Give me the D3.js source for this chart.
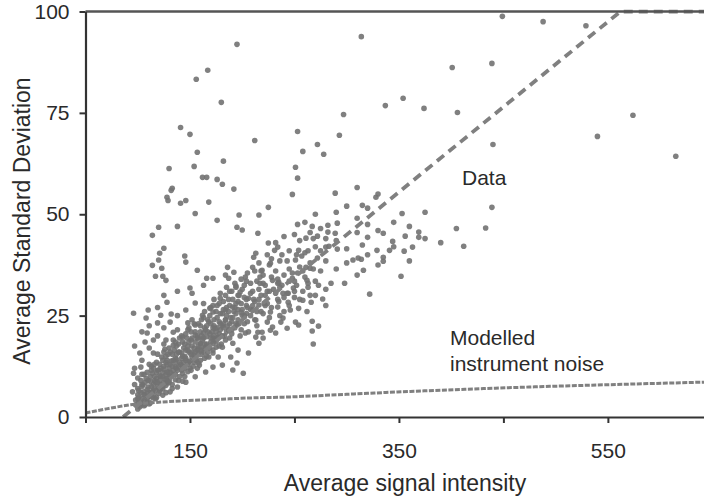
<!DOCTYPE html>
<html>
<head>
<meta charset="utf-8">
<script src="https://cdn.jsdelivr.net/npm/d3@7"></script>
<style>
  body { margin: 0; background: #fff; }
  svg { display: block; font-family: "Liberation Sans", Arial, sans-serif; }
</style>
</head>
<body>
<div id="chart"></div>
<script>
// values (intensity, standard deviation)
var outliers = [[195,91.9],[167,85.5],[156,83.3],[180,77.6],[141,71.4],[150,69.7],[212,68.2],[157,65.3],[154,61.8],[182,63.1],[130,61.3],[162,59.1],[166,59.1],[176,58.6],[181,57.4],[192,56.2],[133,56.4],[132,55.9],[128,54.2],[129,53.4],[141,52.7],[146,53.4],[168,53.0],[155,50.2],[176,48.5],[197,49.8],[216,49.8],[225,51.7],[195,46.8],[200,46.1],[215,45.3],[138,47.0],[120,46.8],[114,44.8],[125,41.6],[121,40.4],[120,38.7],[114,37.4],[123,36.7],[117,34.7],[124,34.7],[127,33.7],[145,39.7],[146,38.2],[157,36.2],[166,34.2],[172,34.2],[186,36.9],[184,35.0],[187,34.2],[192,35.7],[203,34.5],[211,39.4],[213,40.4],[210,36.9],[219,36.2],[227,37.9],[225,42.9],[234,41.9],[231,41.1],[217,34.5],[229,33.7],[235,33.2],[194,32.3],[150,31.8]];

var upperRight = [[314,93.8],[401,86.2],[439,87.2],[354,78.6],[337,76.8],[374,76.1],[406,75.1],[297,74.6],[253,70.4],[293,69.5],[272,67.2],[258,65.5],[278,64.8],[251,61.6],[253,58.9],[248,54.9],[289,55.2],[310,56.6],[328,54.2],[315,52.2],[353,50.2],[440,67.2],[439,51.7],[433,46.6],[412,42.1],[449,98.8],[488,97.5],[529,96.5],[574,74.4],[540,69.2],[615,64.3]];

var middle = [[253,47.5],[267,47.0],[282,47.3],[291,47.8],[261,44.1],[272,44.6],[282,45.6],[289,45.3],[320,44.3],[335,45.3],[344,43.3],[356,44.6],[369,45.6],[369,44.3],[363,41.9],[355,40.9],[341,41.1],[329,41.1],[315,42.4],[280,41.9],[291,41.4],[254,41.1],[257,39.7],[251,38.7],[272,39.2],[261,36.9],[253,35.5],[248,34.2],[262,33.7],[316,36.2],[306,38.7],[314,38.9],[335,39.4],[335,38.4],[352,34.7],[298,33.0],[273,32.5],[263,32.0],[283,42.1],
  [244,30.5],[258,28.8],[266,28.3],[277,29.1],[254,26.8],[251,23.4],[254,22.7],[267,23.6],[273,22.4],[267,21.2],[268,18.0],[322,30.3],[243,21.9],[244,28.3],[265,36.7],[311,39.2],[217,33.0],[234,33.0],[239,30.5],[249,31.8],[246,26.4],[237,23.4],[227,21.4],[220,19.5],[215,20.9]];

var cluster = [[96,25.6],[110,26.4],[108,24.4],[128,28.3],[122,25.1],[132,25.4],[131,23.4],[119,23.2],[109,20.7],[107,18.5],[102,15.8],[115,15.8],[126,16.7],[127,13.5],[134,20.9],[143,19.7],[148,23.2],[155,22.7],[162,25.1],[169,26.8],[179,29.3],[184,26.4],[191,27.1],[198,30.8],[206,29.3],[210,26.4],[216,27.6],[222,30.0],[227,25.9],[234,27.1],[239,24.4],[229,22.2],[219,20.9],[213,19.7],[203,20.7],[195,22.7],[187,21.4],[177,19.7],[172,18.2],[165,17.2],[158,15.8],[152,14.8],[144,13.5],[136,12.3],[129,11.1],[124,9.9],[117,8.6],[110,7.4],[106,6.2],[101,4.9],[95,6.2],
  [201,10.8],[191,11.6],[181,12.8],[172,12.3],[165,11.1],[155,9.9],[146,8.6],[138,7.4],[131,6.2],[124,5.4],[115,4.7],[109,3.7],[103,3.4],[98,4.2],[96,10.8],[103,12.3],[100,9.6],[105,7.9],[114,10.8],[120,11.6],[136,14.5],[148,16.5],[160,18.2],[172,19.5],[181,17.2],[191,18.2],[196,16.5],[189,14.8],[177,14.8],[168,14.8],[158,13.3],[150,12.1],[143,10.8],[131,9.9],[128,8.4],[120,7.1],[114,6.2],[107,5.4],
  [184,23.9],[200,25.1],[213,23.9],[224,23.4],[232,20.7],[216,18.2],[206,15.8],[195,13.3],[155,20.2],[163,20.7],[174,21.9],[134,17.7],[127,19.0],[115,19.0],[172,25.9],[155,28.1],[146,26.4],
  [98,3.0],[100,5.5],[102,2.5],[104,8.0],[106,4.0],[108,9.5],[110,5.0],[111,3.2],[112,8.8],[113,12.5],[115,6.8],[116,9.0],[117,4.5],[118,13.5],[119,7.5],[120,5.8],[121,10.2],[122,8.0],[123,14.8],[124,6.9],[125,11.8],[126,9.3],[127,7.8],[128,12.9],[129,15.5],[130,8.5],[131,11.0],[132,13.8],[133,7.0],[134,10.5],[135,16.5],[136,9.2],[137,14.2],[138,11.5],[139,18.0],[140,10.0],[141,13.0],[142,15.8],[143,8.8],[144,17.0],[145,12.0],[146,14.0],[147,19.5],[148,11.2],[149,16.0],[150,13.8],[151,21.0],[152,17.5],[153,12.5],[154,15.2],[155,18.5],[156,14.0],[157,20.0],[158,16.8],[159,12.8],[160,22.5],[161,15.5],[162,19.0],[163,17.0],[164,14.5],[165,21.5],[166,19.8],[167,16.0],[168,23.5],[170,18.5],[171,21.0],[172,15.8],[173,24.0],[174,19.0],[175,17.2],[176,22.0],[178,20.5],[179,25.5],[180,18.0],[182,23.0],[183,20.0],[185,27.0],[186,22.5],[188,19.5],[189,24.5],[190,21.5],[192,26.0],[194,23.0],[196,28.5],[198,20.0],[199,25.8],[202,23.0],[204,27.5],[206,21.0],[208,25.0],[211,29.0],[214,22.5],[218,26.0],[221,28.0],[226,24.5],[230,31.5],[235,28.5],[240,26.0],[245,33.5],[250,29.5],[258,31.0],[262,26.0],[270,30.0],[280,27.5],[285,33.0]];

// more of the dense band: intensity, then the deviations seen at that intensity
var bandRows = [
  [100, 2.0, 4.5, 7.0], [103, 3.0, 6.0, 9.0], [106, 2.8, 5.5, 10.5], [109, 4.5, 6.8, 11.0],
  [112, 3.5, 6.0, 10.0], [115, 5.5, 8.0, 12.0], [118, 4.8, 9.5, 11.0], [121, 6.5, 9.0, 13.0],
  [124, 7.5, 11.0, 14.0], [127, 6.0, 10.5, 15.0], [130, 9.0, 12.0, 17.0], [133, 8.0, 12.5, 15.5],
  [136, 10.5, 13.5, 18.5], [139, 9.0, 12.5, 16.0], [142, 11.5, 14.5, 20.0], [145, 10.0, 15.0, 18.0],
  [148, 13.0, 17.5, 21.5], [151, 11.5, 15.5, 19.0], [154, 13.5, 17.0, 23.0], [157, 12.0, 16.5, 19.5],
  [160, 14.0, 18.0, 21.0], [163, 16.0, 19.5, 24.5], [166, 15.0, 18.0, 22.5], [169, 17.0, 20.5, 25.0],
  [172, 16.5, 22.0, 27.5], [175, 18.5, 21.0, 26.0], [178, 17.5, 23.5, 28.0], [181, 20.0, 22.5, 25.5],
  [184, 19.0, 24.0, 30.0], [187, 21.5, 26.0, 29.0], [190, 20.5, 23.5, 31.0], [193, 22.0, 27.0, 33.0],
  [196, 24.0, 26.5, 30.0], [199, 21.5, 28.0, 34.0], [202, 25.0, 29.5, 32.5], [205, 23.5, 27.0, 35.5],
  [208, 26.5, 30.5, 33.0], [212, 24.0, 28.5, 36.0], [216, 29.0, 31.5, 38.0], [220, 25.5, 33.0, 35.0],
  [224, 28.0, 31.0, 40.0], [228, 27.0, 34.5, 39.0], [232, 30.5, 36.0, 43.0], [236, 25.0, 32.0, 38.5],
  [240, 29.5, 35.0, 44.5], [245, 27.5, 36.5, 41.0], [250, 31.0, 33.5, 45.0], [255, 29.0, 37.0, 43.5],
  [260, 34.5, 40.5, 48.0], [265, 30.0, 38.0, 45.5], [270, 33.5, 42.0, 50.0], [275, 36.0, 41.0, 46.5],
  [280, 31.5, 38.5, 44.0], [290, 36.5, 43.5, 50.5], [300, 38.0, 41.5, 52.0], [310, 35.0, 45.5, 49.0],
  [320, 40.0, 47.5, 51.5], [330, 37.5, 46.0, 55.0], [345, 42.0, 48.0], [360, 38.5, 47.0],
  [375, 44.0, 50.5], [390, 43.0], [405, 46.5],
  [97, 8.0, 12.0, 17.5], [104, 10.5, 14.0, 21.0], [111, 13.0, 17.0, 22.5], [119, 15.5, 20.0, 27.0],
  [125, 18.0, 22.0, 30.0], [138, 21.5, 25.0, 31.0], [152, 24.0, 30.5], [163, 28.0, 32.5],
  [101, 3.5, 6.5], [104, 4.5, 7.5], [107, 3.0, 8.5], [110, 6.0, 9.0], [113, 5.0, 7.5, 11.5],
  [116, 6.5, 10.0, 13.0], [119, 8.5, 11.5], [122, 7.0, 10.0, 12.0], [125, 8.5, 12.5, 16.0],
  [128, 9.5, 11.0, 14.0], [131, 10.0, 13.0, 16.0], [134, 11.5, 14.0, 19.0], [137, 12.0, 15.5, 17.5],
  [140, 13.5, 16.0, 19.5], [143, 12.5, 15.0, 18.5], [146, 14.5, 16.5, 20.5], [149, 13.5, 18.5, 22.0],
  [152, 16.0, 19.5], [155, 14.5, 16.0, 21.0], [158, 17.5, 19.5, 23.0], [161, 16.5, 20.0, 24.0],
  [164, 18.0, 22.0, 26.0], [167, 17.5, 21.0, 24.0], [170, 19.5, 23.0, 27.0], [173, 20.0, 22.5, 29.0],
  [176, 19.5, 24.5, 27.5], [179, 21.5, 23.0, 30.5], [182, 22.0, 26.5, 28.5], [185, 21.0, 25.0, 32.0],
  [188, 23.0, 27.5, 31.0], [191, 24.5, 29.0], [194, 25.5, 28.0, 32.0], [197, 23.0, 30.0],
  [200, 26.5, 31.5], [204, 25.5, 29.0, 33.5], [210, 27.5, 31.0], [214, 26.0, 33.5], [218, 30.0, 36.0],
  [222, 27.5, 32.5], [226, 31.0, 37.5], [234, 29.0, 34.0], [238, 32.5, 40.0], [243, 30.5, 38.5],
  [248, 35.5], [252, 32.5, 40.0], [258, 36.0], [263, 33.0, 41.0], [268, 36.5, 44.0]
];

// dashed "Data" trend line
var fitX = [86, 562, 642];
var fitY = [0, 100, 100];

// modelled instrument noise curve
var noiseX = [50, 70, 93, 130, 180, 208, 240, 300, 360, 431, 500, 570, 642];
var noiseY = [1.0, 2.0, 3.0, 3.8, 4.4, 4.7, 4.9, 5.6, 6.3, 7.0, 7.6, 8.1, 8.6];

var xTicks = [50, 150, 250, 350, 450, 550];
var xLabels = [150, 350, 550];
var yTicks = [0, 25, 50, 75, 100];

var W = 704, H = 499;

var svg = d3.select("#chart")
  .append("svg")
  .attr("width", W)
  .attr("height", H);

var x = d3.scaleLinear().domain([50, 642]).range([85.5, 704]);
var y = d3.scaleLinear().domain([0, 100]).range([417, 11.5]);

svg.append("clipPath").attr("id", "plot")
  .append("rect")
  .attr("x", x(50)).attr("y", y(100) - 2)
  .attr("width", x(642) - x(50)).attr("height", y(0) - y(100) + 2);

var g = svg.append("g").attr("clip-path", "url(#plot)");

var bandPoints = [];
bandRows.forEach(function (row) {
  row.slice(1).forEach(function (v) { bandPoints.push([row[0], v]); });
});

var allPoints = outliers.concat(upperRight, middle, cluster, bandPoints);

// scatter
g.append("g")
  .selectAll("circle")
  .data(allPoints)
  .enter()
  .append("circle")
  .attr("cx", function (d) { return x(d[0]); })
  .attr("cy", function (d) { return y(d[1]); })
  .attr("r", 2.8)
  .style("fill", "#727272")
  .style("opacity", 0.9);

// trend line
var line = d3.line()
  .x(function (d) { return x(d[0]); })
  .y(function (d) { return y(d[1]); });

g.append("path")
  .datum(fitX.map(function (v, i) { return [v, fitY[i]]; }))
  .attr("d", line)
  .style("fill", "none")
  .style("stroke", "#808080")
  .style("stroke-width", 3.8)
  .style("stroke-dasharray", "9,6");

// noise curve
g.append("path")
  .datum(noiseX.map(function (v, i) { return [v, noiseY[i]]; }))
  .attr("d", line.curve(d3.curveMonotoneX))
  .style("fill", "none")
  .style("stroke", "#808080")
  .style("stroke-width", 3)
  .style("stroke-dasharray", "5,1.5");

// top border
svg.append("line")
  .attr("x1", x(50)).attr("x2", W)
  .attr("y1", y(100)).attr("y2", y(100))
  .style("stroke", "#555")
  .style("stroke-width", 2.5);

// axes
var xAxis = svg.append("g")
  .attr("transform", "translate(0," + y(0) + ")")
  .call(d3.axisBottom(x)
    .tickValues(xTicks)
    .tickSize(6)
    .tickSizeOuter(0)
    .tickPadding(20)
    .tickFormat(function (d) { return xLabels.indexOf(d) >= 0 ? d : ""; }));

var yAxis = svg.append("g")
  .attr("transform", "translate(" + x(50) + ",0)")
  .call(d3.axisLeft(y)
    .tickValues(yTicks)
    .tickSize(6)
    .tickSizeOuter(0)
    .tickPadding(10));

[xAxis, yAxis].forEach(function (a) {
  a.select(".domain").style("stroke", "#333").style("stroke-width", 2.2);
  a.selectAll(".tick line").style("stroke", "#333").style("stroke-width", 2);
  a.selectAll(".tick text")
    .style("font-size", "21px")
    .style("fill", "#2a2a2a")
    .style("font-family", "'Liberation Sans', Arial, sans-serif");
});

// axis titles
svg.append("text")
  .attr("x", 405)
  .attr("y", 491)
  .attr("text-anchor", "middle")
  .style("font-size", "23px")
  .style("fill", "#2a2a2a")
  .text("Average signal intensity");

svg.append("text")
  .attr("transform", "translate(30,221) rotate(-90)")
  .attr("text-anchor", "middle")
  .style("font-size", "23px")
  .style("fill", "#2a2a2a")
  .text("Average Standard Deviation");

// annotations
svg.append("text")
  .attr("x", 462).attr("y", 185)
  .style("font-size", "21px")
  .style("fill", "#2a2a2a")
  .text("Data");

svg.append("text")
  .attr("x", 450).attr("y", 345)
  .style("font-size", "21px")
  .style("fill", "#2a2a2a")
  .text("Modelled");

svg.append("text")
  .attr("x", 450).attr("y", 371)
  .style("font-size", "21px")
  .style("fill", "#2a2a2a")
  .text("instrument noise");
</script>
</body>
</html>
